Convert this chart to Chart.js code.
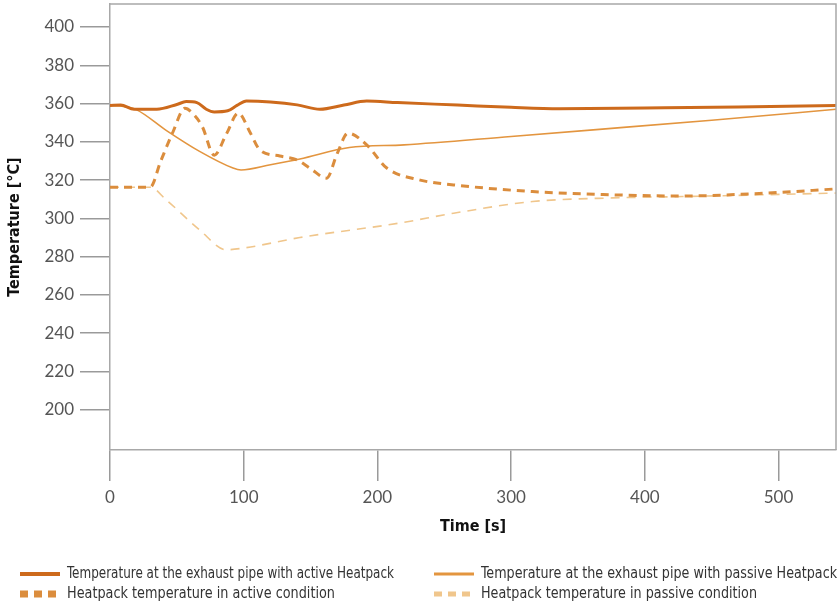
<!DOCTYPE html>
<html>
<head>
<meta charset="utf-8">
<script src="https://cdn.jsdelivr.net/npm/chart.js@4.4.1/dist/chart.umd.min.js"></script>
<style>
html,body{margin:0;padding:0;background:#fff;}
#wrap{width:837px;height:605px;position:relative;}
</style>
</head>
<body>
<div id="wrap"><canvas id="c" width="837" height="605"></canvas></div>
<script>
// ---- data ----
const xTicks = [0, 100, 200, 300, 400, 500];
const yTicks = [200, 220, 240, 260, 280, 300, 320, 340, 360, 380, 400];

const activeTime = [0, 8, 18, 35, 50, 57, 65, 72, 78, 88, 95, 102, 120, 140, 157, 175, 192, 215, 260, 300, 336, 400, 470, 543];
const activeVals = [359, 359.2, 357, 357, 359.5, 361, 360.5, 357, 355.6, 356.2, 359, 361.3, 360.8, 359.3, 357, 359.2, 361.3, 360.5, 359.2, 358, 357.3, 357.7, 358.2, 359];

const passiveTime = [0, 10, 20, 42, 67, 92, 98, 120, 142, 179, 220, 300, 366, 450, 543];
const passiveVals = [359, 358.5, 356.7, 346, 335, 326.3, 325.3, 328, 331, 337, 338.4, 342.8, 346.5, 351.3, 357];

const hpActiveTime = [0, 30, 38, 47, 56, 63, 69, 78, 87, 96, 105, 112, 127, 140, 150, 162, 170, 178, 192, 207, 232, 257, 316, 376, 428, 491, 543];
const hpActiveVals = [316.3, 316.3, 330, 345, 357.5, 354, 348, 333, 344, 355, 344.6, 335.8, 332.6, 330.5, 326, 321, 334, 344.5, 338.4, 326.3, 320, 317.5, 314, 312.3, 311.7, 313.2, 315.4];

const hpPassiveTime = [0, 30, 42, 67, 87, 100, 142, 217, 257, 316, 376, 428, 543];
const hpPassiveVals = [316.3, 316.3, 309.7, 294, 283.6, 284.5, 290, 297.6, 302.7, 308.8, 310.7, 311.4, 313.2];

const labels = [
  'Temperature at the exhaust pipe with active Heatpack',
  'Temperature at the exhaust pipe with passive Heatpack',
  'Heatpack temperature in active condition',
  'Heatpack temperature in passive condition'
];
const colors = ['#cd6a1c', '#e3953f', '#db8d3d', '#f0c68c'];

function pts(t, v) { return t.map((x, i) => ({x: x, y: v[i]})); }

const narrow = '"DejaVu Sans Condensed", "Liberation Sans Narrow", "Liberation Sans", sans-serif';
const tickFont = 'Lato, "Open Sans", sans-serif';

const datasets = [
  {label: labels[0], data: pts(activeTime, activeVals), borderColor: colors[0], borderWidth: 3, borderDash: []},
  {label: labels[1], data: pts(passiveTime, passiveVals), borderColor: colors[1], borderWidth: 1.6, borderDash: []},
  {label: labels[2], data: pts(hpActiveTime, hpActiveVals), borderColor: colors[2], borderWidth: 3, borderDash: [8, 6]},
  {label: labels[3], data: pts(hpPassiveTime, hpPassiveVals), borderColor: colors[3], borderWidth: 1.6, borderDash: [9, 7]}
].map(d => Object.assign(d, {pointRadius: 0, fill: false, cubicInterpolationMode: 'monotone'}));

datasets[0].order = 0; datasets[1].order = 2; datasets[2].order = 1; datasets[3].order = 3;

const frame = {
  id: 'frame',
  afterDraw(chart) {
    const ctx = chart.ctx, a = chart.chartArea;
    ctx.save();
    ctx.strokeStyle = '#a8a8a8';
    ctx.lineWidth = 1.5;
    ctx.beginPath();
    ctx.moveTo(a.left, a.top); ctx.lineTo(a.right, a.top); ctx.lineTo(a.right, a.bottom);
    ctx.stroke();
    // legend, two columns
    const cols = [[20, 67], [434, 481]];
    const rows = [574, 594];
    const targetW = [327, 356, 268, 276];
    const order = [[0, 0, 0], [1, 1, 0], [2, 0, 1], [3, 1, 1]];
    ctx.font = '15px ' + narrow;
    ctx.textBaseline = 'middle';
    ctx.textAlign = 'left';
    order.forEach(([di, c, r]) => {
      const ds = chart.data.datasets[di];
      const y = rows[r];
      const x0 = cols[c][0], x1 = x0 + 40;
      ctx.strokeStyle = ds.borderColor;
      ctx.lineWidth = di === 0 ? 4 : 3;
      if (di >= 2) {
        ctx.fillStyle = ds.borderColor;
        const h = di === 2 ? 7 : 5;
        for (let k = 0; k < 3; k++) ctx.fillRect(x0 + k * 14, y - h / 2, 8, h);
      } else {
        ctx.beginPath(); ctx.moveTo(x0, y); ctx.lineTo(x1, y); ctx.stroke();
      }
      ctx.fillStyle = '#333';
      const w = ctx.measureText(ds.label).width;
      const sx = targetW[di] / w;
      ctx.save();
      ctx.translate(cols[c][1], y);
      ctx.scale(sx, 1.08);
      ctx.fillText(ds.label, 0, 0);
      ctx.restore();
    });
    ctx.restore();
  }
};

new Chart(document.getElementById('c'), {
  type: 'line',
  data: {datasets: datasets},
  options: {
    responsive: false,
    animation: false,
    layout: {padding: {top: 4, right: 1, left: 0, bottom: 69}},
    plugins: {legend: {display: false}, tooltip: {enabled: false}},
    scales: {
      x: {
        type: 'linear', min: 0, max: 543,
        afterBuildTicks(s) { s.ticks = xTicks.map(v => ({value: v})); },
        afterFit(s) { s.height = 86; s.paddingLeft = 0; s.paddingRight = 0; },
        grid: {drawOnChartArea: false, drawTicks: true, tickLength: 31, color: '#9a9a9a', lineWidth: 1.5},
        border: {display: true, color: '#a8a8a8', width: 1.5},
        ticks: {font: {family: tickFont, size: 17}, color: '#555', padding: 6, maxRotation: 0},
        title: {display: true, text: 'Time [s]', font: {family: narrow, size: 16, weight: 'bold'}, color: '#111', padding: {top: 0, bottom: 0}}
      },
      y: {
        type: 'linear', min: 179, max: 412,
        afterBuildTicks(s) { s.ticks = yTicks.map(v => ({value: v})); },
        afterFit(s) { s.width = 110; s.paddingTop = 0; s.paddingBottom = 0; },
        grid: {drawOnChartArea: false, drawTicks: true, tickLength: 30, color: '#9a9a9a', lineWidth: 1.5},
        border: {display: true, color: '#a8a8a8', width: 1.5},
        ticks: {font: {family: tickFont, size: 17}, color: '#555', padding: 6},
        title: {display: true, text: 'Temperature [°C]', font: {family: narrow, size: 16, weight: 'bold'}, color: '#111', padding: {top: 5, bottom: 0}}
      }
    }
  },
  plugins: [frame]
});
</script>
</body>
</html>
